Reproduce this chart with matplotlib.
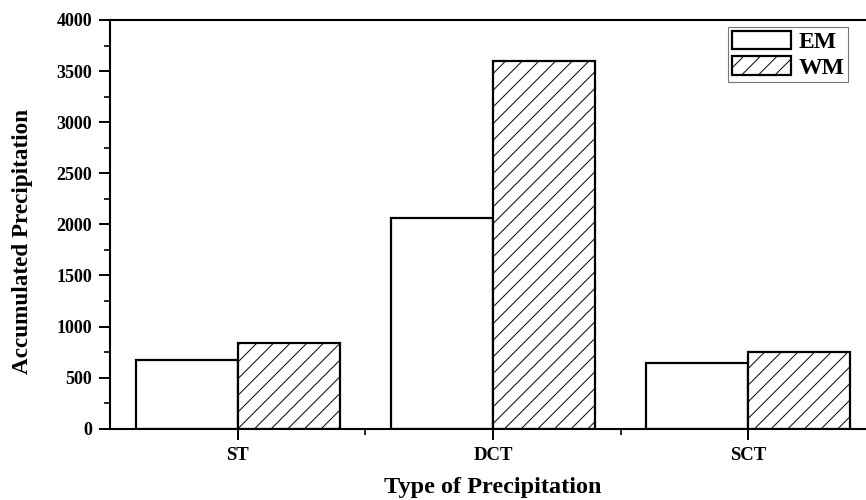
import matplotlib
matplotlib.use("Agg")
import matplotlib.pyplot as plt
from matplotlib.ticker import MultipleLocator, FixedLocator
import numpy as np

categories = ["ST", "DCT", "SCT"]
em_values = [672, 2059, 643]
wm_values = [841, 3598, 748]
series_labels = ["EM", "WM"]

plt.rcParams["font.family"] = ["Liberation Serif", "DejaVu Serif"]
plt.rcParams["font.weight"] = "bold"
plt.rcParams["hatch.linewidth"] = 0.7
plt.rcParams["hatch.color"] = "#333333"

fig = plt.figure(figsize=(8.66, 5.0), dpi=100)
ax = fig.add_axes([110 / 866, 1 - 428.7 / 500, 766 / 866, 408.7 / 500])

x = np.arange(len(categories))
w = 0.4
ax.bar(x - w / 2, em_values, width=w, facecolor="white", edgecolor="black",
       linewidth=1.6, label=series_labels[0])
ax.bar(x + w / 2, wm_values, width=w, facecolor="white", edgecolor="black",
       linewidth=1.6, hatch="//", label=series_labels[1])

ax.set_xlim(-0.5, 2.5)
ax.set_ylim(0, 4000)
ax.set_xticks(x)
ax.set_xticklabels(categories, fontsize=13.5, fontweight="bold")
ax.xaxis.set_minor_locator(FixedLocator(x[:-1] + 0.5))
ax.yaxis.set_major_locator(MultipleLocator(500))
ax.yaxis.set_minor_locator(MultipleLocator(250))
for lbl in ax.get_yticklabels():
    lbl.set_fontsize(13)
    lbl.set_fontweight("bold")

ax.tick_params(axis="both", which="major", direction="out", length=8, width=1.4, pad=5)
ax.tick_params(axis="both", which="minor", direction="out", length=4.5, width=1.2)
for s in ax.spines.values():
    s.set_linewidth(1.5)

ax.set_ylabel("Accumulated Precipitation", fontsize=16.7, fontweight="bold")
ax.yaxis.set_label_coords((33 - 110) / 766, (428.7 - 241) / 408.7)
ax.set_xlabel("Type of Precipitation", fontsize=17.5, fontweight="bold")
ax.xaxis.set_label_coords(0.5, (428.7 - 477) / 408.7)

leg = ax.legend(loc="upper right", bbox_to_anchor=((848 - 110) / 766, 1 - 7 / 408.7),
                fontsize=17, frameon=True, fancybox=False, edgecolor="#555555",
                handlelength=2.5, handleheight=0.85, handletextpad=0.34,
                borderpad=0.15, labelspacing=0.12, borderaxespad=0)
leg.get_frame().set_linewidth(0.8)
for t in leg.get_texts():
    t.set_fontweight("bold")

fig.savefig("out.png", dpi=100)
